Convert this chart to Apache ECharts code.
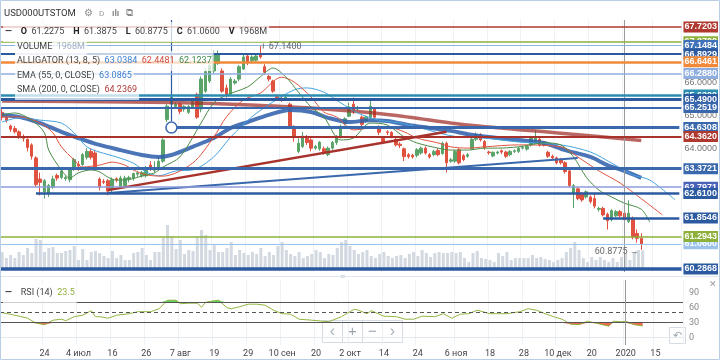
<!DOCTYPE html>
<html><head><meta charset="utf-8">
<script src="https://cdn.jsdelivr.net/npm/echarts@6/dist/echarts.min.js"></script>
<style>html,body{margin:0;padding:0;background:#fff}#c{width:720px;height:360px}</style>
</head><body><div id="c"></div>
<script>
// ---------- categories (trading days) ----------
const firstDay = '2019-06-10';
const holidays = ['2020-01-01','2020-01-02','2020-01-07'];
const slotCount = 161;
const tickDates = ['2019-06-24','2019-07-04','2019-07-16','2019-07-26','2019-08-07','2019-08-19','2019-08-29','2019-09-10','2019-09-20','2019-10-02','2019-10-14','2019-10-24','2019-11-06','2019-11-18','2019-11-28','2019-12-10','2019-12-20','2020-01-03','2020-01-15'];
const tickLabels = ['24','4 июл','16','26','7 авг','19','29','10 сен','20','2 окт','14','24','6 ноя','18','28','10 дек','20','2020','15'];

// ---------- price data [open, close, low, high] ----------
const ohlc = [
[65.10,64.95,64.85,65.20],[64.95,64.85,64.78,65.05],[64.68,64.58,64.50,64.72],[64.60,64.50,64.45,64.68],[64.50,64.35,64.28,64.55],
[64.36,64.30,64.20,64.42],[64.27,64.02,63.90,64.30],[64.10,63.75,63.65,64.15],[63.70,62.88,62.80,63.75],[63.05,62.95,62.55,63.25],
[62.66,63.00,62.45,63.05],[62.60,62.85,62.50,62.90],[62.80,63.05,62.75,63.15],[63.16,63.08,63.00,63.22],[63.10,63.30,63.05,63.35],
[63.06,63.10,63.00,63.16],[63.03,63.35,62.95,63.40],[63.35,63.65,63.30,63.70],[63.50,63.45,63.30,63.60],[63.50,63.80,63.45,63.85],
[63.72,63.90,63.65,64.00],[63.90,63.72,63.65,64.00],[63.85,63.35,63.30,63.95],[63.05,62.80,62.70,63.10],[62.98,62.95,62.90,63.05],
[63.00,62.68,62.55,63.05],[62.72,63.03,62.65,63.10],[63.06,63.02,62.95,63.10],[62.80,63.08,62.75,63.15],[62.85,63.08,62.80,63.15],
[63.05,63.10,62.95,63.15],[63.08,63.22,63.00,63.25],[63.20,63.24,63.12,63.30],[63.15,63.25,63.10,63.30],[63.15,63.37,63.10,63.45],
[63.48,63.40,63.30,63.60],[63.32,63.36,63.25,63.60],[63.35,63.60,63.30,63.75],[63.60,64.25,63.55,64.30],[64.88,65.29,64.80,65.35],
[65.35,65.56,65.25,65.65],[65.28,65.35,65.20,65.40],[65.35,65.13,65.05,65.40],[65.20,65.28,65.12,65.32],[65.10,65.28,65.05,65.32],
[65.25,65.44,65.20,65.50],[65.65,64.95,64.90,65.70],[65.20,66.12,65.10,66.20],[65.75,66.35,65.70,66.45],[66.06,66.53,66.00,66.60],
[66.37,66.90,66.30,67.00],[66.60,66.90,66.55,67.00],[66.37,65.75,65.70,66.45],[65.85,65.65,65.55,65.95],[65.66,66.12,65.60,66.18],
[66.00,66.06,65.95,66.12],[66.12,66.50,66.05,66.55],[66.43,66.80,66.40,66.88],[66.83,66.65,66.55,66.90],[66.68,66.80,66.60,66.85],
[66.70,66.83,66.65,66.90],[66.90,66.80,66.75,67.14],[66.50,66.33,66.25,66.58],[66.20,66.12,66.05,66.25],[66.06,65.75,65.70,66.10],
[65.58,65.55,65.50,65.65],[65.52,65.50,65.42,65.58],[65.50,65.56,65.45,65.62],[65.35,64.67,64.60,65.40],[64.67,64.33,64.20,64.70],
[63.90,64.15,63.85,64.30],[64.05,64.37,64.00,64.50],[64.35,64.17,64.10,64.40],[64.25,64.00,63.90,64.30],[64.00,64.05,63.95,64.10],
[63.98,64.18,63.92,64.22],[63.98,63.88,63.80,64.05],[63.80,64.00,63.75,64.05],[64.00,64.17,63.95,64.22],[64.17,64.36,64.10,64.40],
[64.33,64.67,64.30,64.72],[64.75,64.90,64.70,64.95],[64.98,65.26,64.95,65.40],[65.35,65.13,65.05,65.55],[65.20,65.24,65.15,65.30],
[64.95,64.73,64.65,65.00],[64.83,64.95,64.78,65.00],[64.95,65.29,64.90,65.45],[65.20,64.95,64.90,65.25],[64.65,64.49,64.40,64.70],
[64.30,64.20,64.12,64.35],[64.50,64.48,64.40,64.55],[64.48,64.36,64.30,64.52],[64.27,64.10,64.05,64.32],[64.12,64.08,64.00,64.18],
[63.98,63.74,63.60,64.02],[63.80,63.74,63.68,63.85],[63.78,63.73,63.68,63.82],[63.78,63.95,63.72,64.00],[63.85,64.00,63.80,64.05],
[64.00,63.85,63.80,64.05],[63.80,63.73,63.68,63.85],[63.80,63.90,63.75,63.95],[63.93,63.80,63.75,64.00],[63.83,64.15,63.80,64.20],
[64.15,63.55,63.25,64.20],[63.60,63.64,63.55,63.70],[63.60,63.90,63.55,63.95],[63.95,63.55,63.50,64.00],[63.77,63.65,63.60,63.82],
[63.75,63.80,63.70,63.85],[63.98,64.27,63.95,64.32],[64.27,64.42,64.22,64.48],[64.42,64.25,64.20,64.46],[64.20,64.02,63.95,64.25],
[63.88,63.86,63.80,63.92],[63.76,63.87,63.72,63.90],[63.85,63.88,63.80,63.92],[63.92,63.88,63.82,63.96],[63.88,63.75,63.70,63.92],
[63.80,63.90,63.75,63.94],[63.90,63.92,63.85,63.96],[63.90,64.00,63.85,64.04],[64.00,64.02,63.96,64.06],[63.97,64.05,63.92,64.10],
[64.10,64.33,64.05,64.38],[64.20,64.35,64.15,64.55],[64.27,64.10,64.05,64.32],[64.18,64.10,64.05,64.22],[63.87,63.75,63.70,63.92],
[63.75,63.70,63.65,63.80],[63.70,63.55,63.50,63.74],[63.65,63.55,63.50,63.70],[63.55,63.28,63.22,63.60],[63.30,62.85,62.80,63.35],
[62.60,62.85,62.16,62.90],[62.75,62.45,62.40,62.80],[62.60,62.41,62.35,62.65],[62.50,62.66,62.45,62.70],[62.50,62.36,62.30,62.55],
[62.45,62.22,62.15,62.60],[62.12,62.15,62.05,62.20],[62.15,61.95,61.90,62.20],[61.97,61.77,61.50,62.02],[61.80,62.08,61.75,62.12],
[61.92,62.05,61.88,62.10],[62.05,61.92,61.88,62.10],[62.00,61.80,61.70,62.10],[61.75,62.00,61.70,62.40],[61.85,61.27,61.20,61.90],
[61.38,61.23,61.10,61.50],[61.2275,61.06,60.8775,61.3875]
];
// volume, millions
const volumes = [
1800,1200,1500,1200,1800,1500,2200,1700,3100,3000,1800,2200,2300,1700,1700,1900,2000,2400,1000,2100,
1000,1800,1900,1700,1400,1200,1900,1200,1500,1000,1000,1700,1800,2200,1500,1000,1800,1800,3200,4500,
3300,2100,3000,1600,2000,1900,3300,4000,3500,2000,2600,1800,1800,2200,2800,1500,
2000,1700,1500,1800,1600,2200,1400,1800,1500,2400,2800,2000,1600,1400,1800,1200,1400,1600,2000,1800,
1200,1600,1500,2200,2800,3000,2400,2000,1600,1800,2000,1400,1200,1600,1800,1400,1200,1400,1500,1200,
1600,1800,1400,
2000,1700,1300,1700,1800,1700,1700,1800,1700,1800,1200,800,1700,1900,1200,
1100,1000,800,1700,1400,1800,1000,1200,1200,1200,1200,1500,1200,1300,1100,1000,800,1000,1200,1800,
2200,2800,2000,1200,800,1300,1000,1300,1000,800,1200,800,1300,1600,1000,1800,2000,1968
];

// ---------- indicator readings [bar index, value] ----------
const emaPts = [[0,65.02],[4,64.96],[9,64.77],[14,64.50],[18,64.31],[23,64.10],[28,63.94],[33,63.79],[37,63.73],[40,63.79],[45,64.04],[50,64.31],[54,64.62],[58,64.80],[63,65.02],[68,65.17],[73,65.11],[77,64.93],[82,64.80],[87,64.86],[91,64.83],[96,64.71],[101,64.62],[106,64.53],[110,64.43],[115,64.34],[122,64.25],[128,64.16],[133,63.94],[139,63.73],[143,63.48],[147,63.30],[151,63.0865]];
const smaPts = [[0,65.45],[30,65.42],[50,65.37],[56,65.34],[73,65.23],[92,65.02],[110,64.71],[132,64.46],[151,64.2369]];
const jawPts = [[0,64.80],[4,64.93],[9,64.86],[14,64.77],[17,64.47],[20,64.04],[23,63.88],[27,63.73],[31,63.54],[34,63.27],[37,63.15],[41,63.30],[45,63.33],[50,63.73],[54,64.34],[59,64.96],[64,65.42],[69,65.79],[72,65.85],[76,65.72],[80,65.39],[84,65.08],[89,64.86],[94,64.77],[99,64.62],[103,64.47],[108,64.34],[114,64.31],[122,64.19],[132,64.10],[139,63.88],[144,63.54],[149,63.18],[153,63.02],[159,62.41]];
const teethPts = [[0,64.96],[4,64.96],[9,64.77],[12,64.47],[14,64.04],[17,63.64],[19,63.42],[23,63.48],[26,63.57],[29,63.48],[31,63.33],[34,63.18],[38,63.14],[45,63.54],[50,64.34],[53,64.96],[57,65.48],[61,65.69],[66,66.18],[69,66.03],[73,65.57],[76,65.11],[79,64.96],[83,64.56],[87,64.62],[91,64.65],[95,64.50],[98,64.31],[103,64.16],[106,64.04],[110,64.00],[114,64.04],[122,64.10],[132,64.04],[136,63.73],[141,63.30],[146,62.93],[151,62.4481],[156,61.95]];
const lipsPts = [[0,65.02],[3,65.08],[7,64.86],[10,64.47],[11,63.94],[14,63.33],[16,63.08],[18,63.24],[21,63.33],[23,63.27],[25,63.11],[27,63.02],[29,63.02],[33,63.14],[36,63.24],[38,63.42],[42,63.73],[47,64.77],[50,65.39],[53,65.63],[58,65.88],[61,66.19],[64,66.46],[67,66.19],[70,65.72],[73,65.26],[76,64.96],[80,64.25],[83,64.31],[87,64.77],[91,64.71],[95,64.34],[98,64.16],[103,64.00],[106,63.94],[110,63.94],[114,64.00],[117,64.00],[122,64.04],[128,64.16],[132,64.10],[135,63.73],[138,63.11],[141,62.71],[144,62.50],[147,62.31],[151,62.1237],[153,61.73]];
const rsiPts = [[0,50],[3,45],[6,39],[8,29],[10,26],[12,35],[14,37],[15,34],[17,42],[19,45],[21,54],[22,42],[23,42],[25,39],[27,45],[30,48],[32,52],[35,52],[37,58],[39,75],[41,75],[42,68],[44,69],[46,69],[47,61],[48,71],[50,74],[51,75],[53,60],[54,58],[56,62],[58,67],[60,67],[62,65],[64,55],[66,48],[68,47],[70,37],[73,35],[77,32],[80,42],[83,57],[84,55],[86,48],[87,54],[90,43],[93,42],[95,37],[97,37],[99,43],[102,42],[104,48],[106,39],[108,47],[110,48],[112,55],[115,48],[117,48],[119,48],[122,52],[124,58],[126,55],[128,48],[130,42],[132,37],[134,27],[136,26],[138,33],[140,29],[141,27],[143,23],[144,33],[146,32],[147,33],[149,26],[151,23.5]];
const alligatorVals = [63.0384, 62.4481, 62.1237];
const emaVal = 63.0865, smaVal = 64.2369, rsiVal = 23.5;

// ---------- drawings ----------
const levelPrices = [67.7203, 67.27, 67.1484, 66.8929, 66.6461, 66.2880, 65.63, 65.49, 65.2519, 64.6308, 64.3620, 63.3721, 62.7971, 62.61, 61.8546, 61.0600, 61.2943, 60.2868];
const levelStartIdx = [null,null,null,null,null,null,null,null,null,40,null,null,null,8,142,null,null,null];
const trendRed = [[25,62.71],[105,64.50]];
const trendBlue = [[25,62.62],[136,63.70]];
const anchorPoint = [40, 64.6308];
const vLineSpan = [40, 67.935, 64.83];
const crossIdx = 147;
const highMark = [61, 67.14];
const lowMark = [151, 60.8775];
const priceTicks = [64, 65, 66];
const rsiTicks = [0, 30, 60, 90];
const rsiLevels = [70, 50, 30];

// ---------- build ----------
const dates = [];
{ let t = Date.parse(firstDay + 'T00:00:00Z');
  while (dates.length < slotCount) { const d = new Date(t); const s = d.toISOString().slice(0,10); const wd = d.getUTCDay();
    if (wd !== 0 && wd !== 6 && holidays.indexOf(s) < 0) dates.push(s); t += 86400000; } }
const tickSet = new Set(tickDates);
const isTick = (i, v) => tickSet.has(v);

const levelStyles = [
 {c:'#b0392f', w:1.5, bg:'#b0392f'}, {c:'#8db13a', w:1.5, bg:'#8db13a'}, {c:'#8fb2e0', w:1, bg:'#3f72b8'},
 {c:'#2c5aa0', w:2, bg:'#2c5aa0'}, {c:'#f0893a', w:2.5, bg:'#f0893a'}, {c:'#8eaee0', w:1.5, bg:'#8eaee0'},
 {c:'#2a8db0', w:2.5, bg:'#2a8db0'}, {c:'#2c5aa0', w:3, bg:'#2c5aa0'}, {c:'#3a68ad', w:2, bg:'#3a68ad'},
 {c:'#3a68ad', w:3, bg:'#3a68ad'}, {c:'#a8322c', w:2, bg:'#b0392f'}, {c:'#3a68ad', w:3, bg:'#3a68ad'},
 {c:'#8e9ddb', w:1.5, bg:'#4a62b8'}, {c:'#2c5aa0', w:2.5, bg:'#2c5aa0'}, {c:'#2c5aa0', w:2.5, bg:'#2c5aa0'},
 {c:'#9cc4ea', w:1, bg:'#9cc4ea'}, {c:'#8db13a', w:1.5, bg:'#8db13a'}, {c:'#2c5aa0', w:3.5, bg:'#2c5aa0'}
];
const FF = 'Roboto';
const boxLabel = (bg, txt, dist) => ({show:true, position:'end', distance:dist, formatter: txt, color:'#fff', backgroundColor:bg,
  fontSize:9, fontWeight:'bold', fontFamily:'Liberation Sans', lineHeight:10, padding:[1,1,0,1]});
const levelItems = levelPrices.map((p, k) => {
  const st = levelStyles[k]; const ls = {color:st.c, width:st.w, type:'solid'};
  if (levelStartIdx[k] === null) return {yAxis:p, lineStyle:ls, label: boxLabel(st.bg, p.toFixed(4), 2)};
  return [{coord:[dates[levelStartIdx[k]], p], lineStyle:ls, label: boxLabel(st.bg, p.toFixed(4), 4)}, {coord:[dates[slotCount-1], p]}];
});
const toXY = pts => pts.map(([i, v]) => [dates[i], v]);
const last = ohlc[ohlc.length-1];
const fmt = v => v.toFixed(4);
const lastVol = volumes[volumes.length-1] + 'M';

const lineSeries = (pts, color, width, z) => ({type:'line', xAxisIndex:0, yAxisIndex:0, data: toXY(pts), symbol:'none', smooth:0.3,
  lineStyle:{color, width}, silent:true, z});
const R = (size, color, bold) => ({fontSize:size, color, fontWeight: bold ? 'bold' : 'normal', fontFamily:FF});
const legendBox = {padding:[1,2], backgroundColor:'rgba(255,255,255,0.72)'};

const option = {
  animation:false,
  backgroundColor:'#fff',
  textStyle:{fontFamily:FF},
  grid:[
    {left:0, top:20, width:683, height:252},
    {left:0, top:20, width:683, height:250},
    {left:0, top:280, width:683, height:65}
  ],
  xAxis:[
    {type:'category', gridIndex:0, data:dates, boundaryGap:true, axisLine:{show:false}, axisTick:{show:false}, axisLabel:{show:false},
     splitLine:{show:true, interval:isTick, lineStyle:{color:'#eef1f5', width:1}}},
    {type:'category', gridIndex:1, data:dates, boundaryGap:true, show:false},
    {type:'category', gridIndex:2, data:dates, boundaryGap:true, axisLine:{show:true, lineStyle:{color:'#e3e8ee'}}, axisTick:{show:false},
     axisLabel:{show:true, interval:isTick, formatter: v => tickLabels[tickDates.indexOf(v)], color:'#444', fontSize:9, margin:4, fontFamily:FF},
     splitLine:{show:true, interval:isTick, lineStyle:{color:'#eef1f5', width:1}}}
  ],
  yAxis:[
    {type:'value', gridIndex:0, position:'right', min:60.196, max:67.935, scale:true, axisLine:{show:false}, axisTick:{show:false}, splitLine:{show:false},
     axisLabel:{show:true, customValues:priceTicks, formatter: v => v.toFixed(4), color:'#777', fontSize:9, margin:3, fontFamily:'Liberation Sans'}},
    {type:'value', gridIndex:1, min:0, max:25000, show:false, splitLine:{show:false}},
    {type:'value', gridIndex:2, position:'right', min:-14.6, max:115.4, axisLine:{show:false}, axisTick:{show:false}, splitLine:{show:false},
     axisLabel:{show:true, customValues:rsiTicks, color:'#888', fontSize:9, margin:6, fontFamily:FF}}
  ],
  title:[
    {left:4, top:9, padding:0, text:'USD000UTSTOM', textStyle:R(9.5,'#333',false)},
    {left:84, top:8, padding:0, text:'⚙', textStyle:{fontSize:10, color:'#8a8a8a', fontWeight:'normal'}},
    {left:99, top:10, padding:0, text:'D', textStyle:{fontSize:8, color:'#999', fontWeight:'normal', fontFamily:FF}},
    {left:112, top:9, padding:0, text:'ılı', textStyle:{fontSize:9, color:'#8a8a8a', fontWeight:'bold'}},
    {left:126, top:8, padding:0, text:'⧉', textStyle:{fontSize:10, color:'#8a8a8a', fontWeight:'normal'}},
    Object.assign({left:3, top:22, text:'{d|—}  {b|O} {v|'+fmt(last[0])+'}  {b|H} {v|'+fmt(last[3])+'}  {b|L} {v|'+fmt(last[2])+'}  {b|C} {v|'+fmt(last[1])+'}  {b|V} {v|'+lastVol+'}',
     textStyle:{rich:{d:R(9,'#333',true), b:R(9,'#222',true), v:R(9,'#444',false)}}}, legendBox),
    Object.assign({left:15, top:37, text:'{n|VOLUME} {g|'+lastVol+'}', textStyle:{rich:{n:R(9,'#444'), g:R(9,'#9fb0c4')}}}, legendBox),
    Object.assign({left:15, top:51, text:'{n|ALLIGATOR (13, 8, 5)} {a|'+fmt(alligatorVals[0])+'} {r|'+fmt(alligatorVals[1])+'} {g|'+fmt(alligatorVals[2])+'}',
     textStyle:{rich:{n:R(9,'#444'), a:R(9,'#3a7fd5'), r:R(9,'#d24a3e'), g:R(9,'#3f8a4a')}}}, legendBox),
    Object.assign({left:15, top:66, text:'{n|EMA (55, 0, CLOSE)} {a|'+fmt(emaVal)+'}', textStyle:{rich:{n:R(9,'#444'), a:R(9,'#3a7fd5')}}}, legendBox),
    Object.assign({left:15, top:80, text:'{n|SMA (200, 0, CLOSE)} {a|'+fmt(smaVal)+'}', textStyle:{rich:{n:R(9,'#444'), a:R(9,'#b03a3a')}}}, legendBox),
    Object.assign({left:3, top:283, text:'{d|—}  {n|RSI (14)} {g|'+rsiVal+'}', textStyle:{rich:{d:R(9,'#333',true), n:R(9,'#444'), g:R(9,'#8fb03a')}}}, legendBox)
  ],
  series:[
    {type:'bar', xAxisIndex:1, yAxisIndex:1, data:volumes, barWidth:3, itemStyle:{color:'#d3d9e1'}, silent:true, z:1},
    {type:'candlestick', xAxisIndex:0, yAxisIndex:0, data:ohlc, barWidth:3, silent:true, z:2,
     itemStyle:{color:'#5aa469', color0:'#e0523f', borderColor:'#5aa469', borderColor0:'#e0523f', borderWidth:1},
     markLine:{symbol:['none','none'], silent:true, animation:false, label:{show:false},
       data:[ {xAxis: dates[crossIdx], lineStyle:{color:'#9a9a9a', width:1, type:'solid'}},
              [{coord:[dates[vLineSpan[0]], vLineSpan[1]], lineStyle:{color:'#2c5aa0', width:1.2, type:'solid'}}, {coord:[dates[vLineSpan[0]], vLineSpan[2]]}] ]},
     markPoint:{silent:true, animation:false, data:[
       {coord:[dates[anchorPoint[0]], anchorPoint[1]], symbol:'circle', symbolSize:11, itemStyle:{color:'#fff', borderColor:'#3a68ad', borderWidth:1.5}, label:{show:false}},
       {coord:[dates[highMark[0]], highMark[1]], symbol:'rect', symbolSize:[1,5], symbolOffset:[3,0], itemStyle:{color:'#777'},
        label:{show:true, position:'right', distance:5, offset:[0,1], formatter: highMark[1].toFixed(4), color:'#666', fontSize:9, fontFamily:FF}},
       {coord:[dates[lowMark[0]], lowMark[1]], symbol:'rect', symbolSize:[1,1], itemStyle:{color:'rgba(0,0,0,0)'},
        label:{show:true, position:'left', distance:2, offset:[0,2], formatter: lowMark[1].toFixed(4)+' →', color:'#666', fontSize:9, fontFamily:FF}}
     ]}},
    lineSeries(smaPts, 'rgba(160,45,40,0.72)', 3.5, 3),
    lineSeries(emaPts, 'rgba(50,98,172,0.88)', 4, 3),
    lineSeries(jawPts, '#45a3e0', 1, 3),
    lineSeries(teethPts, '#e0553f', 1, 3),
    lineSeries(lipsPts, '#4c8c47', 1, 3),
    {type:'line', xAxisIndex:0, yAxisIndex:0, data:[], symbol:'none', clip:false, silent:true, z:4,
     markLine:{symbol:['none','none'], silent:true, animation:false, label:{show:false}, data:[
       [{coord:[dates[trendRed[0][0]], trendRed[0][1]], lineStyle:{color:'#a8322c', width:2.5, type:'solid'}}, {coord:[dates[trendRed[1][0]], trendRed[1][1]]}],
       [{coord:[dates[trendBlue[0][0]], trendBlue[0][1]], lineStyle:{color:'#3a68ad', width:2, type:'solid'}}, {coord:[dates[trendBlue[1][0]], trendBlue[1][1]]}]
     ]}},
    {type:'line', xAxisIndex:0, yAxisIndex:0, data:[], symbol:'none', clip:false, silent:true, z:5,
     markLine:{symbol:['none','none'], silent:true, animation:false, data: levelItems}},
    {type:'line', xAxisIndex:2, yAxisIndex:2, data: rsiPts.map(([i,v]) => [dates[i], Math.max(v, rsiLevels[0])]), symbol:'none', silent:true,
     lineStyle:{width:0}, areaStyle:{origin:rsiLevels[0], color:'#5fd35f', opacity:1}, z:2},
    {type:'line', xAxisIndex:2, yAxisIndex:2, data: rsiPts.map(([i,v]) => [dates[i], Math.min(v, rsiLevels[2])]), symbol:'none', silent:true,
     lineStyle:{width:0}, areaStyle:{origin:rsiLevels[2], color:'#ef6a4f', opacity:1}, z:2},
    {type:'line', xAxisIndex:2, yAxisIndex:2, data: toXY(rsiPts), symbol:'none', silent:true, lineStyle:{color:'#93b541', width:1}, z:3,
     markLine:{symbol:['none','none'], silent:true, animation:false, label:{show:false}, data:[
       {yAxis:rsiLevels[0], lineStyle:{color:'#555', width:1, type:'solid'}},
       {yAxis:rsiLevels[1], lineStyle:{color:'#555', width:1, type:[4,3]}},
       {yAxis:rsiLevels[2], lineStyle:{color:'#555', width:1, type:'solid'}},
       {xAxis:dates[crossIdx], lineStyle:{color:'#9a9a9a', width:1, type:'solid'}}
     ]}}
  ],
  graphic:[
    {type:'line', shape:{x1:0, y1:276.5, x2:720, y2:276.5}, style:{stroke:'#dfe6ee', lineWidth:1}, z:10},
    {type:'text', x:343, y:277, style:{text:'=', fill:'#b5bec9', font:'9px sans-serif', align:'center', verticalAlign:'middle'}, z:11},
    {type:'group', x:322, y:320, z:20, children:[
      {type:'rect', shape:{x:0.5, y:0.5, width:80, height:22}, style:{fill:'rgba(255,255,255,0.92)', stroke:'#d5dbe2', lineWidth:1}},
      {type:'line', shape:{x1:20.5, y1:0.5, x2:20.5, y2:22.5}, style:{stroke:'#d5dbe2'}},
      {type:'line', shape:{x1:40.5, y1:0.5, x2:40.5, y2:22.5}, style:{stroke:'#d5dbe2'}},
      {type:'line', shape:{x1:60.5, y1:0.5, x2:60.5, y2:22.5}, style:{stroke:'#d5dbe2'}},
      {type:'text', x:10.5, y:11.5, style:{text:'‹', fill:'#aab2bc', font:'16px sans-serif', align:'center', verticalAlign:'middle'}},
      {type:'text', x:30.5, y:11.5, style:{text:'+', fill:'#9aa3ad', font:'15px sans-serif', align:'center', verticalAlign:'middle'}},
      {type:'text', x:50.5, y:11.5, style:{text:'−', fill:'#9aa3ad', font:'15px sans-serif', align:'center', verticalAlign:'middle'}},
      {type:'text', x:70.5, y:11.5, style:{text:'›', fill:'#aab2bc', font:'16px sans-serif', align:'center', verticalAlign:'middle'}}
    ]},
    {type:'group', x:669, y:327, z:20, children:[
      {type:'rect', shape:{x:0.5, y:0.5, width:16, height:16}, style:{fill:'rgba(255,255,255,0.92)', stroke:'#d5dbe2'}},
      {type:'text', x:8.5, y:8.5, style:{text:'↶', fill:'#9aa3ad', font:'11px sans-serif', align:'center', verticalAlign:'middle'}}
    ]},
    {type:'text', x:713, y:285, z:20, style:{text:'✕', fill:'#999', font:'9px sans-serif', align:'center', verticalAlign:'middle'}},
    {type:'rect', shape:{x:0.5, y:0.5, width:719, height:359}, style:{fill:'none', stroke:'#b9cde4', lineWidth:1}, z:30}
  ]
};
const chart = echarts.init(document.getElementById('c'));
chart.setOption(option);
</script></body></html>
